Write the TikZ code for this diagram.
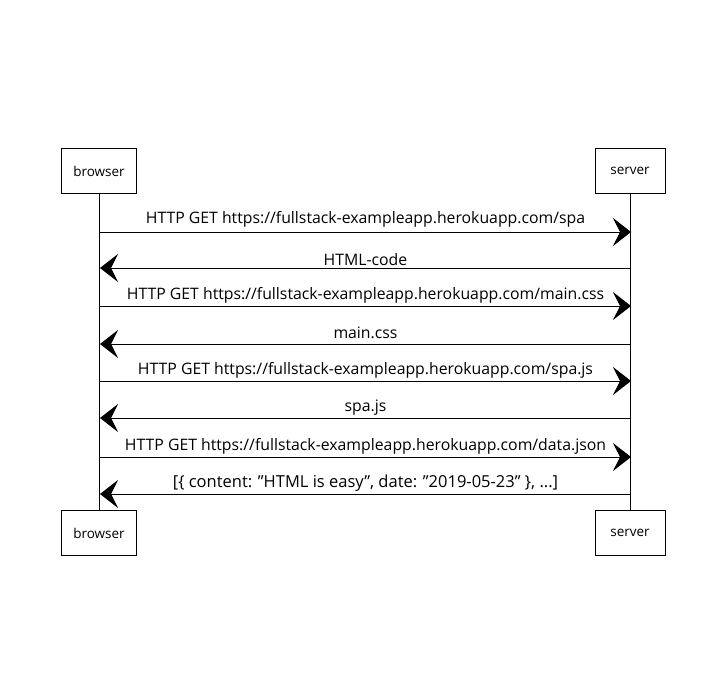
\documentclass[tikz,border=0pt]{standalone}
\usepackage{fontspec}
\setmainfont{Open Sans}[Ligatures=ResetAll]
\usetikzlibrary{arrows.meta}
\newcommand{\sq}{\symbol{34}}
\begin{document}
\begin{tikzpicture}[x=1pt,y=-1pt,
  actor/.style={draw,line width=1pt,minimum width=75pt,minimum height=45pt,inner sep=0pt,font=\fontsize{13.5}{15}\selectfont},
  life/.style={line width=0.8pt},
  msg/.style={line width=1pt,-{Stealth[length=18pt,width=28pt,inset=7pt]}},
  lbl/.style={font=\fontsize{15.8}{18}\selectfont,inner sep=1pt}]
\useasboundingbox (0,0) rectangle (728,690);
\node[actor] (bt) at (99,171) {browser};
\node[actor,minimum width=70pt] (st) at (630,171) {server};
\node[actor] (bb) at (99,533) {browser};
\node[actor,minimum width=70pt] (sb) at (630,533) {server};
\draw[life] (bt.south) -- (bb.north);
\draw[life] (st.south) -- (sb.north);
\foreach \n/\y in {1/232,2/268,3/306,4/344,5/381,6/418,7/457,8/494}{
  \coordinate (b\n) at (100,\y);
  \coordinate (s\n) at (631,\y);
}
\draw[msg] (b1) -- node[lbl,above=3pt] (m1) {HTTP GET https://fullstack-exampleapp.herokuapp.com/spa} (s1);
\draw[msg] (s2) -- node[lbl,above=1pt] (m2) {HTML-code} (b2);
\draw[msg] (b3) -- node[lbl,above=1pt] (m3) {HTTP GET https://fullstack-exampleapp.herokuapp.com/main.css} (s3);
\draw[msg] (s4) -- node[lbl,above=4pt] (m4) {main.css} (b4);
\draw[msg] (b5) -- node[lbl,above=1pt] (m5) {HTTP GET https://fullstack-exampleapp.herokuapp.com/spa.js} (s5);
\draw[msg] (s6) -- node[lbl,above=1pt] (m6) {spa.js} (b6);
\draw[msg] (b7) -- node[lbl,above=1pt] (m7) {HTTP GET https://fullstack-exampleapp.herokuapp.com/data.json} (s7);
\draw[msg] (s8) -- node[lbl,above=1pt,font=\fontsize{16.5}{18}\selectfont] (m8) {[\{ content: \sq HTML is easy\sq, date: \sq 2019-05-23\sq\ \}, ...]} (b8);
\end{tikzpicture}
\end{document}
